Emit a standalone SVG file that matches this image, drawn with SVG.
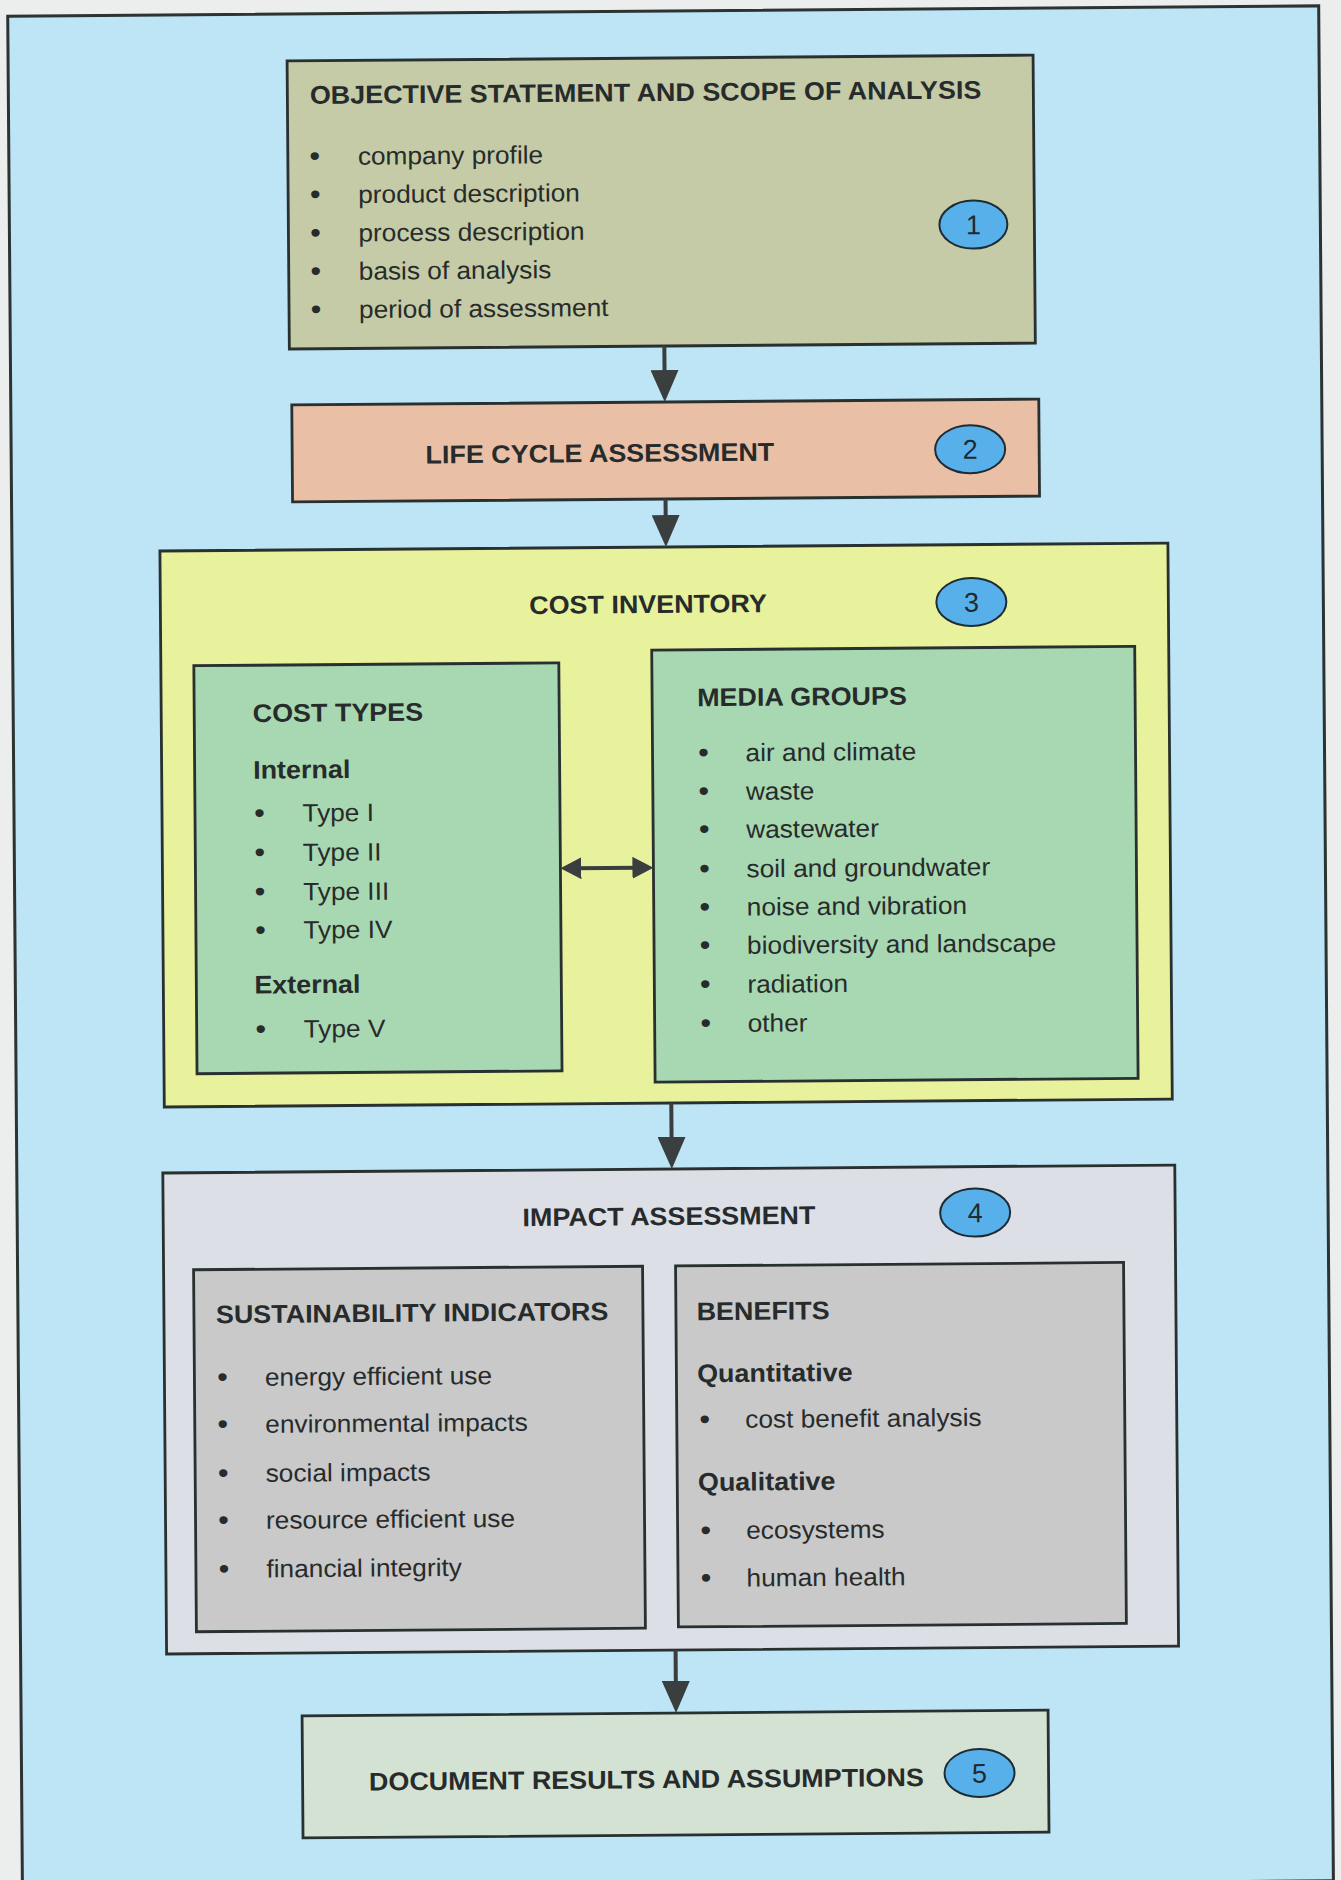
<svg xmlns="http://www.w3.org/2000/svg" width="1341" height="1880" viewBox="0 0 1341 1880">
<defs>
<style>
.t{font-family:"Liberation Sans",Arial,sans-serif;font-size:25px;fill:#272b2b}
.b{font-weight:bold;font-size:25.5px}
.m{text-anchor:middle}
.d{font-size:29px}
.box{stroke:#283030;stroke-width:2.8}
.num{fill:#58b0ea;stroke:#1f2b33;stroke-width:2}
.n{font-family:"Liberation Sans",Arial,sans-serif;font-size:27px;text-anchor:middle;fill:#1f2a30}
.conn{stroke:#3a3e3e;stroke-width:4;fill:none}
</style>
<marker id="ah" markerUnits="userSpaceOnUse" viewBox="0 0 32 28" markerWidth="32" markerHeight="28" refX="10" refY="14" orient="auto"><path d="M0,0 L32,14 L0,28 z" fill="#3a3e3e"/></marker>
<marker id="ah2" markerUnits="userSpaceOnUse" viewBox="0 0 21 22" markerWidth="21" markerHeight="22" refX="6" refY="11" orient="auto-start-reverse"><path d="M0,0 L21,11 L0,22 z" fill="#3a3e3e"/></marker>
</defs>
<rect x="0" y="0" width="1341" height="1880" fill="#eceeee"/>
<g transform="rotate(-0.45 670 940)">
<rect id="frame" x="15" y="11" width="1311" height="1875" fill="#bde5f5" stroke="#2b3333" stroke-width="3"/>

<g id="node1">
<rect class="box" x="294" y="58" width="746" height="288" fill="#c4cba6"/>
<text class="t b" transform="translate(316.5 101) scale(1.055 1)">OBJECTIVE STATEMENT AND SCOPE OF ANALYSIS</text>
<text class="t m d" transform="translate(321 163) scale(1.05 1)">•</text>
<text class="t" transform="translate(364 162.3) scale(1.05 1)">company profile</text>
<text class="t m d" transform="translate(321 201.3) scale(1.05 1)">•</text>
<text class="t" transform="translate(364 200.6) scale(1.05 1)">product description</text>
<text class="t m d" transform="translate(321 239.7) scale(1.05 1)">•</text>
<text class="t" transform="translate(364 239) scale(1.05 1)">process description</text>
<text class="t m d" transform="translate(321 278) scale(1.05 1)">•</text>
<text class="t" transform="translate(364 277.3) scale(1.05 1)">basis of analysis</text>
<text class="t m d" transform="translate(321 316.3) scale(1.05 1)">•</text>
<text class="t" transform="translate(364 315.6) scale(1.05 1)">period of assessment</text>
<ellipse class="num" cx="979" cy="227" rx="34" ry="24"/>
<text class="n" x="979" y="236.5">1</text>
</g>

<g id="node2">
<rect class="box" x="296" y="402" width="747" height="97" fill="#e9c0a6"/>
<text class="t b m" transform="translate(603.7 461.5) scale(1.055 1)">LIFE CYCLE ASSESSMENT</text>
<ellipse class="num" cx="974" cy="451.6" rx="35" ry="24"/>
<text class="n" x="974" y="461">2</text>
</g>

<g id="node3">
<rect class="box" x="163" y="547" width="1008" height="556" fill="#e8f29c"/>
<text class="t b m" transform="translate(650.6 612.8) scale(1.055 1)">COST INVENTORY</text>
<ellipse class="num" cx="974" cy="604.4" rx="35" ry="24"/>
<text class="n" x="974" y="614">3</text>
</g>

<g id="costtypes">
<rect class="box" x="196" y="662" width="365" height="408" fill="#a8d8b1"/>
<text class="t b" transform="translate(254.5 718.7) scale(1.055 1)">COST TYPES</text>
<text class="t b" transform="translate(254.5 775.4) scale(1.055 1)">Internal</text>
<text class="t m d" transform="translate(260.5 819.4) scale(1.05 1)">•</text>
<text class="t" transform="translate(303.5 818.7) scale(1.05 1)">Type I</text>
<text class="t m d" transform="translate(260.5 858.8) scale(1.05 1)">•</text>
<text class="t" transform="translate(303.5 858.1) scale(1.05 1)">Type II</text>
<text class="t m d" transform="translate(260.5 898.1) scale(1.05 1)">•</text>
<text class="t" transform="translate(303.5 897.4) scale(1.05 1)">Type III</text>
<text class="t m d" transform="translate(260.5 936.4) scale(1.05 1)">•</text>
<text class="t" transform="translate(303.5 935.7) scale(1.05 1)">Type IV</text>
<text class="t b" transform="translate(254 990.3) scale(1.055 1)">External</text>
<text class="t m d" transform="translate(260 1035.4) scale(1.05 1)">•</text>
<text class="t" transform="translate(303 1034.7) scale(1.05 1)">Type V</text>
</g>

<g id="mediagroups">
<rect class="box" x="654" y="650" width="483" height="432" fill="#a8d8b1"/>
<text class="t b" transform="translate(699 706.4) scale(1.055 1)">MEDIA GROUPS</text>
<text class="t m d" transform="translate(705 762.5) scale(1.05 1)">•</text>
<text class="t" transform="translate(747 761.8) scale(1.05 1)">air and climate</text>
<text class="t m d" transform="translate(705 801.1) scale(1.05 1)">•</text>
<text class="t" transform="translate(747 800.4) scale(1.05 1)">waste</text>
<text class="t m d" transform="translate(705 839.1) scale(1.05 1)">•</text>
<text class="t" transform="translate(747 838.4) scale(1.05 1)">wastewater</text>
<text class="t m d" transform="translate(705 878.6) scale(1.05 1)">•</text>
<text class="t" transform="translate(747 877.9) scale(1.05 1)">soil and groundwater</text>
<text class="t m d" transform="translate(705 916.8) scale(1.05 1)">•</text>
<text class="t" transform="translate(747 916.1) scale(1.05 1)">noise and vibration</text>
<text class="t m d" transform="translate(705 955.1) scale(1.05 1)">•</text>
<text class="t" transform="translate(747 954.4) scale(1.05 1)">biodiversity and landscape</text>
<text class="t m d" transform="translate(705 994.1) scale(1.05 1)">•</text>
<text class="t" transform="translate(747 993.4) scale(1.05 1)">radiation</text>
<text class="t m d" transform="translate(705 1033.1) scale(1.05 1)">•</text>
<text class="t" transform="translate(747 1032.4) scale(1.05 1)">other</text>
</g>

<g id="node4">
<rect class="box" x="161" y="1169" width="1012" height="481" fill="#dddfe7"/>
<text class="t b m" transform="translate(666.8 1225) scale(1.055 1)">IMPACT ASSESSMENT</text>
<ellipse class="num" cx="973" cy="1215" rx="35" ry="24"/>
<text class="n" x="973" y="1224.5">4</text>
</g>

<g id="sustainability">
<rect class="box" x="191" y="1266" width="449" height="362" fill="#c9c9ca"/>
<text class="t b" transform="translate(213 1319.6) scale(1.055 1)">SUSTAINABILITY INDICATORS</text>
<text class="t m d" transform="translate(219 1383.3) scale(1.05 1)">•</text>
<text class="t" transform="translate(261.5 1382.6) scale(1.05 1)">energy efficient use</text>
<text class="t m d" transform="translate(219 1430.3) scale(1.05 1)">•</text>
<text class="t" transform="translate(261.5 1429.6) scale(1.05 1)">environmental impacts</text>
<text class="t m d" transform="translate(219 1479.3) scale(1.05 1)">•</text>
<text class="t" transform="translate(261.5 1478.6) scale(1.05 1)">social impacts</text>
<text class="t m d" transform="translate(219 1526.3) scale(1.05 1)">•</text>
<text class="t" transform="translate(261.5 1525.6) scale(1.05 1)">resource efficient use</text>
<text class="t m d" transform="translate(219 1574.9) scale(1.05 1)">•</text>
<text class="t" transform="translate(261.5 1574.2) scale(1.05 1)">financial integrity</text>
</g>

<g id="benefits">
<rect class="box" x="673" y="1266" width="448" height="361" fill="#c9c9ca"/>
<text class="t b" transform="translate(693.7 1320.4) scale(1.055 1)">BENEFITS</text>
<text class="t b" transform="translate(693.7 1382.4) scale(1.055 1)">Quantitative</text>
<text class="t m d" transform="translate(701 1429.1) scale(1.05 1)">•</text>
<text class="t" transform="translate(741.5 1428.4) scale(1.05 1)">cost benefit analysis</text>
<text class="t b" transform="translate(693.7 1491) scale(1.055 1)">Qualitative</text>
<text class="t m d" transform="translate(701 1540.1) scale(1.05 1)">•</text>
<text class="t" transform="translate(741.5 1539.4) scale(1.05 1)">ecosystems</text>
<text class="t m d" transform="translate(701 1587.7) scale(1.05 1)">•</text>
<text class="t" transform="translate(741.5 1587) scale(1.05 1)">human health</text>
</g>

<g id="node5">
<rect class="box" x="296" y="1713" width="746" height="122" fill="#d4e2d4"/>
<text class="t b m" transform="translate(639.8 1788) scale(1.055 1)">DOCUMENT RESULTS AND ASSUMPTIONS</text>
<ellipse class="num" cx="973" cy="1775.4" rx="35" ry="24"/>
<text class="n" x="973" y="1785">5</text>
</g>

<g id="connectors">
<line class="conn" x1="669" y1="346" x2="669" y2="380" marker-end="url(#ah)"/>
<line class="conn" x1="669" y1="499" x2="669" y2="525" marker-end="url(#ah)"/>
<line class="conn" x1="670" y1="1103" x2="670" y2="1147" marker-end="url(#ah)"/>
<line class="conn" x1="670" y1="1650" x2="670" y2="1691" marker-end="url(#ah)"/>
<line class="conn" x1="576" y1="867.5" x2="639" y2="867.5" marker-start="url(#ah2)" marker-end="url(#ah2)"/>
</g>
</g>
</svg>
